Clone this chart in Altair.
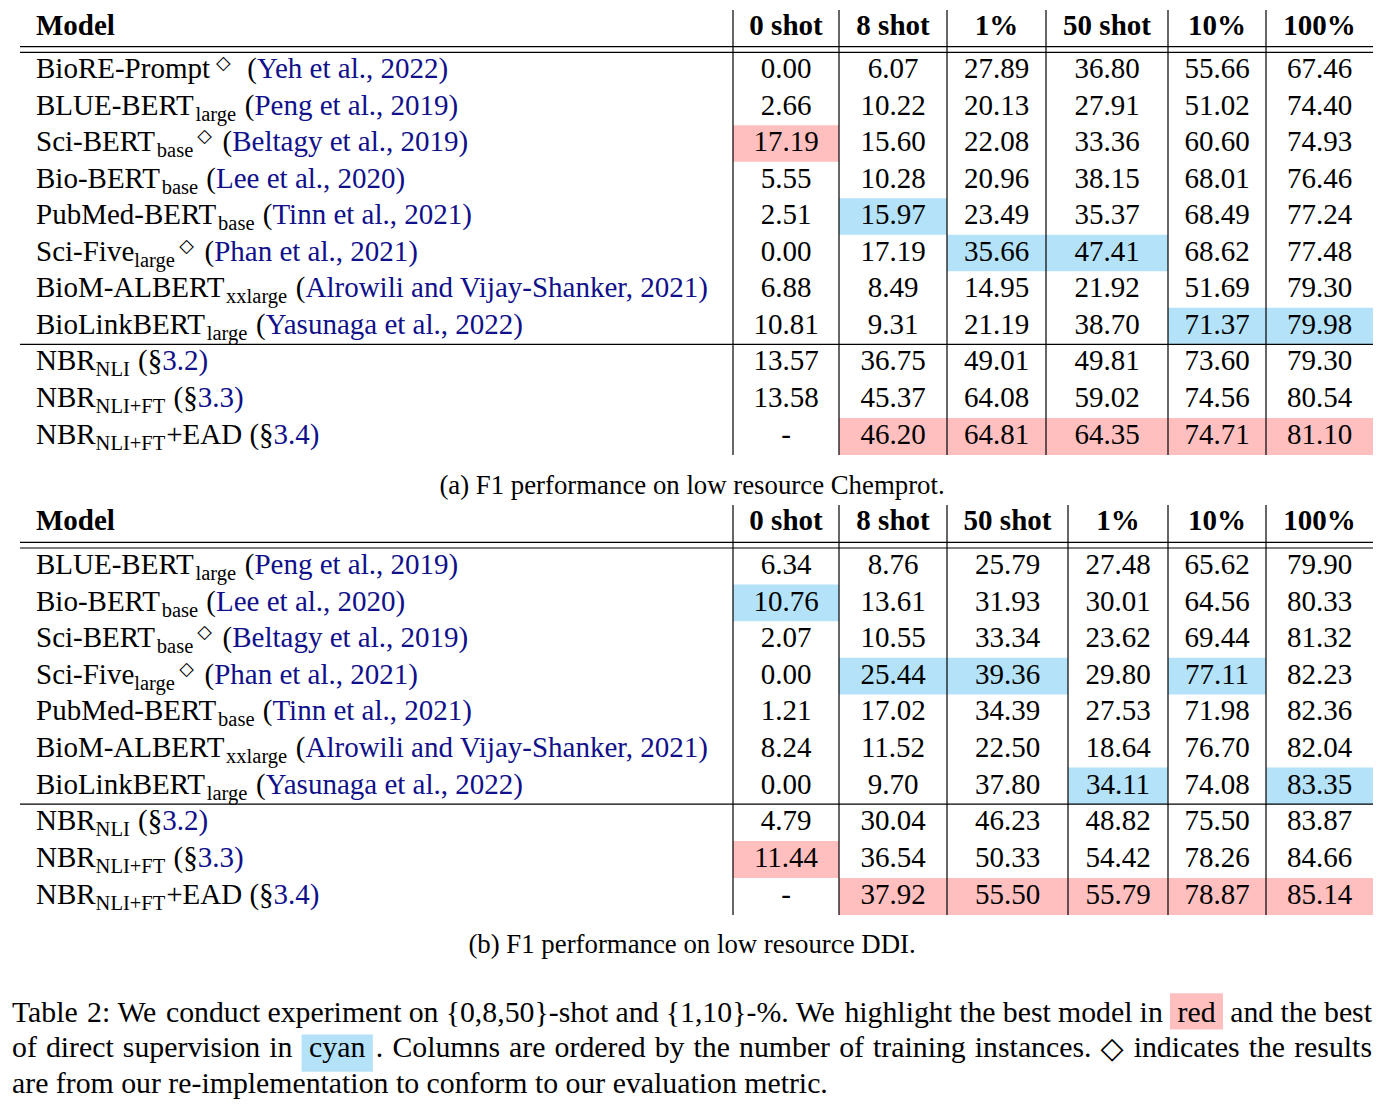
import altair as alt
import pandas as pd

# ------------------------------------------------------------------ data
chem_columns = ["0 shot", "8 shot", "1%", "50 shot", "10%", "100%"]
chem_names = ["BioRE-Prompt", "BLUE-BERT", "Sci-BERT", "Bio-BERT", "PubMed-BERT",
              "Sci-Five", "BioM-ALBERT", "BioLinkBERT", "NBR", "NBR", "NBR"]
chem_subs = ["", "large", "base", "base", "base", "large", "xxlarge", "large",
             "NLI", "NLI+FT", "NLI+FT"]
chem_marked = [True, False, True, False, False, True, False, False, False, False, False]
chem_suffix = ["", "", "", "", "", "", "", "", "", "", "+EAD"]
chem_refs = ["Yeh et al., 2022", "Peng et al., 2019", "Beltagy et al., 2019",
             "Lee et al., 2020", "Tinn et al., 2021", "Phan et al., 2021",
             "Alrowili and Vijay-Shanker, 2021", "Yasunaga et al., 2022",
             "§3.2", "§3.3", "§3.4"]
chem_0shot = [0.00, 2.66, 17.19, 5.55, 2.51, 0.00, 6.88, 10.81, 13.57, 13.58, None]
chem_8shot = [6.07, 10.22, 15.60, 10.28, 15.97, 17.19, 8.49, 9.31, 36.75, 45.37, 46.20]
chem_1pct = [27.89, 20.13, 22.08, 20.96, 23.49, 35.66, 14.95, 21.19, 49.01, 64.08, 64.81]
chem_50shot = [36.80, 27.91, 33.36, 38.15, 35.37, 47.41, 21.92, 38.70, 49.81, 59.02, 64.35]
chem_10pct = [55.66, 51.02, 60.60, 68.01, 68.49, 68.62, 51.69, 71.37, 73.60, 74.56, 74.71]
chem_100pct = [67.46, 74.40, 74.93, 76.46, 77.24, 77.48, 79.30, 79.98, 79.30, 80.54, 81.10]
chem_red = [(2, 0), (10, 1), (10, 2), (10, 3), (10, 4), (10, 5)]
chem_cyan = [(4, 1), (5, 2), (5, 3), (7, 4), (7, 5)]

ddi_columns = ["0 shot", "8 shot", "50 shot", "1%", "10%", "100%"]
ddi_names = ["BLUE-BERT", "Bio-BERT", "Sci-BERT", "Sci-Five", "PubMed-BERT",
             "BioM-ALBERT", "BioLinkBERT", "NBR", "NBR", "NBR"]
ddi_subs = ["large", "base", "base", "large", "base", "xxlarge", "large",
            "NLI", "NLI+FT", "NLI+FT"]
ddi_marked = [False, False, True, True, False, False, False, False, False, False]
ddi_suffix = ["", "", "", "", "", "", "", "", "", "+EAD"]
ddi_refs = ["Peng et al., 2019", "Lee et al., 2020", "Beltagy et al., 2019",
            "Phan et al., 2021", "Tinn et al., 2021", "Alrowili and Vijay-Shanker, 2021",
            "Yasunaga et al., 2022", "§3.2", "§3.3", "§3.4"]
ddi_0shot = [6.34, 10.76, 2.07, 0.00, 1.21, 8.24, 0.00, 4.79, 11.44, None]
ddi_8shot = [8.76, 13.61, 10.55, 25.44, 17.02, 11.52, 9.70, 30.04, 36.54, 37.92]
ddi_50shot = [25.79, 31.93, 33.34, 39.36, 34.39, 22.50, 37.80, 46.23, 50.33, 55.50]
ddi_1pct = [27.48, 30.01, 23.62, 29.80, 27.53, 18.64, 34.11, 48.82, 54.42, 55.79]
ddi_10pct = [65.62, 64.56, 69.44, 77.11, 71.98, 76.70, 74.08, 75.50, 78.26, 78.87]
ddi_100pct = [79.90, 80.33, 81.32, 82.23, 82.36, 82.04, 83.35, 83.87, 84.66, 85.14]
ddi_red = [(8, 0), (9, 1), (9, 2), (9, 3), (9, 4), (9, 5)]
ddi_cyan = [(1, 0), (3, 1), (3, 2), (3, 4), (6, 3), (6, 5)]

caption_a = "(a) F1 performance on low resource Chemprot."
caption_b = "(b) F1 performance on low resource DDI."
caption_line1 = ["Table", "2:", "We", "conduct", "experiment", "on", "{0,8,50}-shot", "and",
                 "{1,10}-%.", "We", "highlight", "the", "best", "model", "in", "[red]",
                 "and", "the", "best"]
caption_line2 = ["of", "direct", "supervision", "in", "[cyan].", "Columns", "are",
                 "ordered", "by", "the", "number", "of", "training", "instances.", "◇",
                 "indicates", "the", "results"]
caption_line3 = "are from our re-implementation to conform to our evaluation metric."

# ------------------------------------------------------------------ style / layout
FONT = "Liberation Serif"
SYM_FONT = "DejaVu Sans"
BODY = 29
SUB = 20.5
SUP = 19
CAP = 29.8
SUBCAP = 26.8
SYM_CAP = 30
BLACK = "#000000"
LINK = "#10108a"
RED = "#ffbfbf"
CYAN = "#b4e2f8"
BOX_COLORS = {"red": RED, "cyan": CYAN}

X_LEFT, X_RIGHT = 20, 1373
NAME_X = 36
CAP_LEFT, CAP_RIGHT = 12, 1372
CAP_CENTER = 692

TIMES_W = {}
for chars, w in [("'", 180), ("|", 200), (" ,.", 250), ("/:;ijlt\\", 278),
                 ("!()-[]`Ifr", 333), ("Js", 389), ('"', 408), ("?acez", 444),
                 ("^", 469), ("{}", 480), ("#$*0123456789_bdghknopquvxy§", 500),
                 ("~", 541), ("FPS", 556), ("+<=>", 564), ("ELTZ", 611), ("BCR", 667),
                 ("ADGHKNOQUVXYw", 722), ("&m", 778), ("%", 833), ("M", 889),
                 ("@", 921), ("W", 944)]:
    for ch in chars:
        TIMES_W[ch] = w


def tw(s, size):
    return sum(TIMES_W.get(ch, 500) for ch in s) * size / 1000.0


rects, rules = [], []
txt_left, txt_center, bold_left, bold_center, syms = [], [], [], [], []


def fmt(v):
    return "-" if v is None else f"{v:.2f}"


def build_table(cols, names, subs, marked, suffix, refs, columns_vals, red, cyan,
                vlines, y_top, rule_a, rule_b, h1, n1, h2, n2, cap_text, cap_base):
    edges = vlines + [X_RIGHT]
    head_base = y_top + 25
    bold_left.append(dict(x=NAME_X, y=head_base, t="Model", s=BODY, c=BLACK))
    for j, c in enumerate(cols):
        bold_center.append(dict(x=(edges[j] + edges[j + 1]) / 2, y=head_base, t=c, s=BODY, c=BLACK))
    mid = rule_b + h1 * n1
    tops = [rule_b + h1 * i for i in range(n1)] + [mid + h2 * i for i in range(n2)]
    bottoms = tops[1:] + [mid + h2 * n2]
    for yy in (rule_a, rule_b, mid):
        rules.append(dict(x=X_LEFT, x2=X_RIGHT, y=yy, y2=yy))
    for vx in vlines:
        rules.append(dict(x=vx, x2=vx, y=y_top, y2=bottoms[-1]))
    for cells, col in ((red, RED), (cyan, CYAN)):
        for r, c in cells:
            rects.append(dict(x=edges[c], x2=edges[c + 1], y=tops[r], y2=bottoms[r], f=col))
    for i in range(len(names)):
        base = tops[i] + 26
        x = NAME_X
        txt_left.append(dict(x=x, y=base, t=names[i], s=BODY, c=BLACK))
        x += tw(names[i], BODY)
        if subs[i]:
            txt_left.append(dict(x=x, y=base + 6, t=subs[i], s=SUB, c=BLACK))
            x += tw(subs[i], SUB) + 1
        if marked[i]:
            dxs = 3 if subs[i] else 6
            syms.append(dict(x=x + dxs, y=base - 9, t="◇", s=SUP, c=BLACK))
            x += dxs + (18 if subs[i] else 24)
        if suffix[i]:
            txt_left.append(dict(x=x, y=base, t=suffix[i], s=BODY, c=BLACK))
            x += tw(suffix[i], BODY)
        x += tw(" ", BODY)
        ref = refs[i]
        opener = "(§" if ref.startswith("§") else "("
        link = ref[1:] if ref.startswith("§") else ref
        txt_left.append(dict(x=x, y=base, t=opener, s=BODY, c=BLACK))
        x += tw(opener, BODY)
        txt_left.append(dict(x=x, y=base, t=link + ")", s=BODY, c=LINK))
        for j, vals in enumerate(columns_vals):
            txt_center.append(dict(x=(edges[j] + edges[j + 1]) / 2, y=base, t=fmt(vals[i]),
                                   s=BODY, c=BLACK))
    txt_center.append(dict(x=CAP_CENTER, y=cap_base, t=cap_text, s=SUBCAP, c=BLACK))


build_table(chem_columns, chem_names, chem_subs, chem_marked, chem_suffix, chem_refs,
            [chem_0shot, chem_8shot, chem_1pct, chem_50shot, chem_10pct, chem_100pct],
            chem_red, chem_cyan, [733, 839, 947, 1046, 1168, 1266],
            10, 46.7, 52.3, 36.5, 8, 36.9, 3, caption_a, 494)
build_table(ddi_columns, ddi_names, ddi_subs, ddi_marked, ddi_suffix, ddi_refs,
            [ddi_0shot, ddi_8shot, ddi_50shot, ddi_1pct, ddi_10pct, ddi_100pct],
            ddi_red, ddi_cyan, [733, 839, 947, 1068, 1168, 1266],
            505, 542.3, 548, 36.6, 7, 36.9, 3, caption_b, 953)

BOX_PAD, BOX_SEP = 7.5, 8


def split_box(w):
    # "[word]tail" -> ("word", "tail")
    end = w.index("]")
    return w[1:end], w[end + 1:]


def word_width(w):
    if w.startswith("["):
        inner, tail = split_box(w)
        return tw(inner, CAP) + 2 * BOX_PAD + (3 + tw(tail, CAP) if tail else 0)
    if w == "◇":
        return 0.8 * SYM_CAP
    return tw(w, CAP)


def justified(words, base):
    widths = [word_width(w) for w in words]
    gap = (CAP_RIGHT - CAP_LEFT - sum(widths)) / (len(words) - 1)
    x = CAP_LEFT
    for w, wd in zip(words, widths):
        if w.startswith("["):
            inner, tail = split_box(w)
            bw = tw(inner, CAP) + 2 * BOX_PAD
            asc = 0.683 if any(ch in "bdfhklt" for ch in inner) else 0.5
            desc = 0.217 if any(ch in "gjpqy" for ch in inner) else 0.0
            rects.append(dict(x=x, x2=x + bw, y=base - asc * CAP - BOX_SEP,
                              y2=base + desc * CAP + BOX_SEP, f=BOX_COLORS[inner]))
            txt_left.append(dict(x=x + BOX_PAD, y=base, t=inner, s=CAP, c=BLACK))
            if tail:
                txt_left.append(dict(x=x + bw + 3, y=base, t=tail, s=CAP, c=BLACK))
        elif w == "◇":
            syms.append(dict(x=x, y=base + 1, t=w, s=SYM_CAP, c=BLACK))
        else:
            txt_left.append(dict(x=x, y=base, t=w, s=CAP, c=BLACK))
        x += wd + gap


justified(caption_line1, 1021.5)
justified(caption_line2, 1057.3)
txt_left.append(dict(x=CAP_LEFT, y=1093.1, t=caption_line3, s=CAP, c=BLACK))

# ------------------------------------------------------------------ chart
xs = alt.Scale(domain=[8, 1376], range=[0, 1368], nice=False, zero=False)
ys = alt.Scale(domain=[8, 1104], range=[0, 1096], nice=False, zero=False)


def xy():
    return dict(x=alt.X("x:Q", scale=xs, axis=None), y=alt.Y("y:Q", scale=ys, axis=None))


rect_layer = alt.Chart(pd.DataFrame(rects)).mark_rect(strokeWidth=0).encode(
    x2="x2:Q", y2="y2:Q", color=alt.Color("f:N", scale=None), **xy())
rule_layer = alt.Chart(pd.DataFrame(rules)).mark_rule(color="black", strokeWidth=1.2).encode(
    x2="x2:Q", y2="y2:Q", **xy())


def text_layer(recs, align, weight="normal", font=FONT):
    return alt.Chart(pd.DataFrame(recs)).mark_text(
        align=align, baseline="alphabetic", font=font, fontWeight=weight).encode(
        text="t:N", size=alt.Size("s:Q", scale=None), color=alt.Color("c:N", scale=None), **xy())


chart = alt.layer(
    rect_layer,
    rule_layer,
    text_layer(txt_left, "left"),
    text_layer(txt_center, "center"),
    text_layer(bold_left, "left", "bold"),
    text_layer(bold_center, "center", "bold"),
    text_layer(syms, "left", font=SYM_FONT),
).properties(
    width=1368, height=1096, padding=0,
    autosize=alt.AutoSizeParams(type="none"),
).configure_view(stroke=None)

chart.save("out.html", embed_options={"renderer": "svg", "actions": False})
